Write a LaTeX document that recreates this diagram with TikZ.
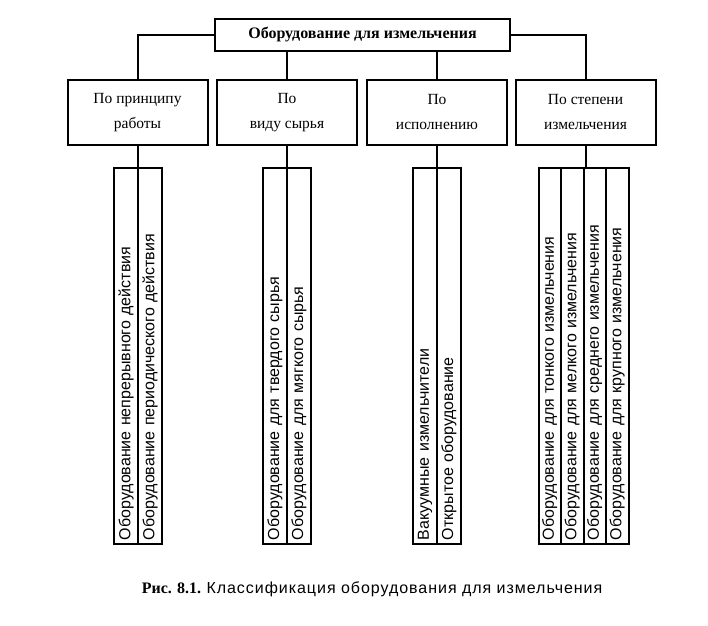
\documentclass[tikz,border=0pt]{standalone}
\usepackage{fontspec}
\setmainfont{Liberation Serif}
\setsansfont{Liberation Sans}
\newfontfamily\capfont{Liberation Sans}[LetterSpace=6]
\usepackage{tikz}

\begin{document}
\begin{tikzpicture}[x=1pt,y=1pt]
  \tikzstyle{root}=[draw, line width=2pt, minimum width=295pt, minimum height=32pt, inner sep=0pt, font=\bfseries\fontsize{16}{18}\selectfont]
  \tikzstyle{group}=[draw, line width=2pt, minimum width=140pt, minimum height=65pt, inner sep=0pt, align=center, font=\fontsize{15.5}{25}\selectfont]
  \tikzstyle{leaf}=[draw, line width=2pt, rotate=90, minimum width=376pt, minimum height=24pt, text width=368pt, inner xsep=4pt, inner ysep=0pt, align=left, font=\sffamily\fontsize{16}{18}\selectfont]
  \tikzstyle{leafthin}=[leaf, minimum height=22.5pt]
  \tikzstyle{link}=[line width=2pt]
  \tikzstyle{caption}=[font=\fontsize{16}{18}\selectfont]

  \path[use as bounding box] (0,0) rectangle (708,625);

  \node[root] (root) at (362.5,590) {Оборудование для измельчения};

  \node[group] (g1) at (137.5,512.5) {По принципу\\работы};
  \node[group] (g2) at (287,512.5) {По\\виду сырья};
  \node[group] (g3) at (437,512.5) {По\\исполнению};
  \node[group] (g4) at (585.5,512.5) {По степени\\измельчения};

  \node[leaf] (l1a) at (126,269) {Оборудование непрерывного действия};
  \node[leaf] (l1b) at (150,269) {Оборудование периодического действия};

  \node[leaf] (l2a) at (275,269) {Оборудование для твердого сырья};
  \node[leaf] (l2b) at (299,269) {Оборудование для мягкого сырья};

  \node[leaf] (l3a) at (425,269) {Вакуумные измельчители};
  \node[leaf] (l3b) at (449,269) {Открытое оборудование};

  \node[leafthin] (l4a) at (549.75,269) {Оборудование для тонкого измельчения};
  \node[leafthin] (l4b) at (572.25,269) {Оборудование для мелкого измельчения};
  \node[leafthin] (l4c) at (594.75,269) {Оборудование для среднего измельчения};
  \node[leafthin] (l4d) at (617.25,269) {Оборудование для крупного измельчения};

  \draw[link] (root.west) -| (g1.north);
  \draw[link] (root.east) -| (g4.north);
  \draw[link] (root.south -| g2.north) -- (g2.north);
  \draw[link] (root.south -| g3.north) -- (g3.north);

  \draw[link] (g1.south) -- (g1.south |- l1a.east);
  \draw[link] (g2.south) -- (g2.south |- l2a.east);
  \draw[link] (g3.south) -- (g3.south |- l3a.east);
  \draw[link] (g4.south) -- (g4.south |- l4a.east);

  \node[caption] (cap) at (372,36) {\textbf{Рис. 8.1.} {\capfont Классификация оборудования для измельчения}};
\end{tikzpicture}
\end{document}
